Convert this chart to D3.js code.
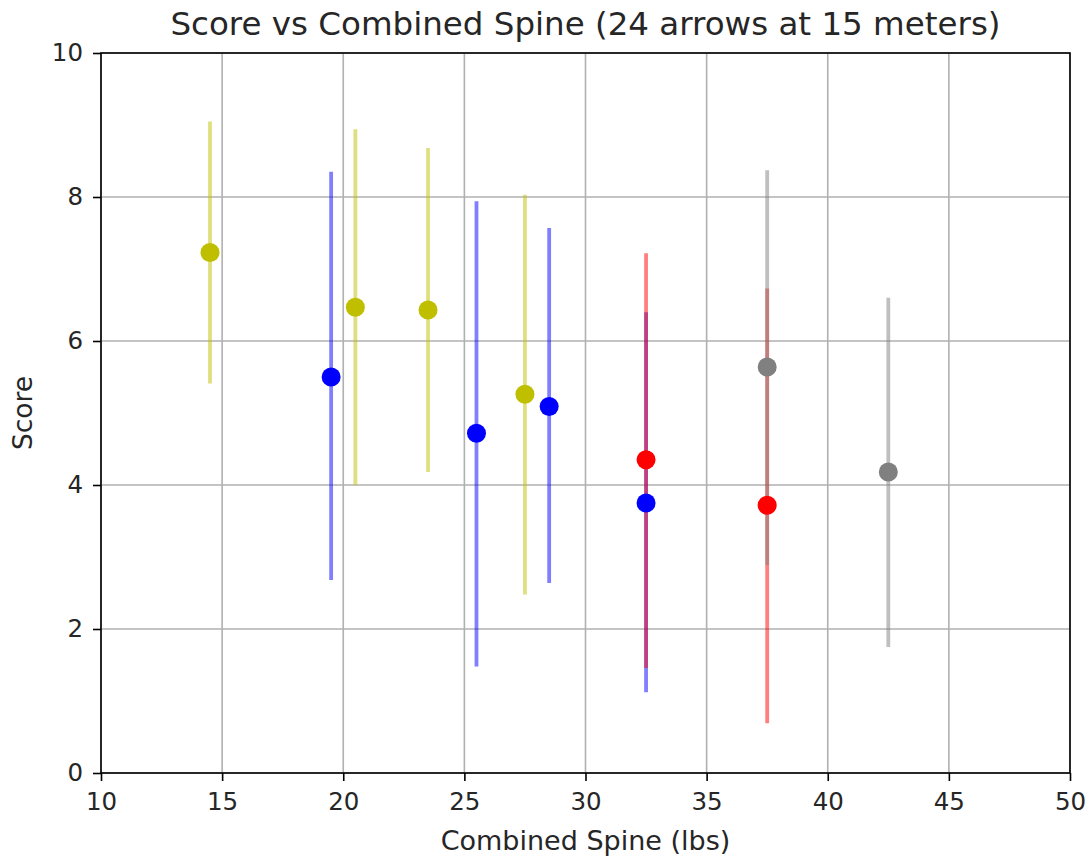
<!DOCTYPE html>
<html><head><meta charset="utf-8">
<script src="https://cdn.jsdelivr.net/npm/d3@7"></script>
<style>body{margin:0;background:#fff;} svg{display:block;font-family:"DejaVu Sans",sans-serif;}</style>
</head><body>
<svg id="c" width="1089" height="857"></svg>
<script>
const xTicks = [10,15,20,25,30,35,40,45,50];
const yTicks = [0,2,4,6,8,10];
const yellowX = [14.5,20.5,23.5,27.5];
const yellowY = [7.23,6.47,6.43,5.26];
const yellowLo = [5.41,4.0,4.18,2.48];
const yellowHi = [9.05,8.94,8.68,8.03];
const blueX = [19.5,25.5,28.5,32.5];
const blueY = [5.5,4.72,5.09,3.75];
const blueLo = [2.68,1.48,2.64,1.12];
const blueHi = [8.35,7.94,7.57,6.40];
const redX = [32.5,37.5];
const redY = [4.35,3.72];
const redLo = [1.46,0.69];
const redHi = [7.22,6.73];
const grayX = [37.5,42.5];
const grayY = [5.64,4.18];
const grayLo = [2.89,1.75];
const grayHi = [8.37,6.6];

const series = [
  {c:"#bfbf00", x:yellowX, y:yellowY, lo:yellowLo, hi:yellowHi},
  {c:"#0000ff", x:blueX, y:blueY, lo:blueLo, hi:blueHi},
  {c:"#ff0000", x:redX, y:redY, lo:redLo, hi:redHi},
  {c:"#808080", x:grayX, y:grayY, lo:grayLo, hi:grayHi}
];

const L=101,R=1070,T=53,B=773;
const svg=d3.select("#c");
const x=d3.scaleLinear().domain([10,50]).range([L,R]);
const y=d3.scaleLinear().domain([0,10]).range([B,T]);

// grid
const g=svg.append("g");
g.selectAll(".gx").data(xTicks).join("line").attr("x1",d=>x(d)).attr("x2",d=>x(d)).attr("y1",T).attr("y2",B).attr("stroke","#b0b0b0").attr("stroke-width",1.6);
g.selectAll(".gy").data(yTicks).join("line").attr("y1",d=>y(d)).attr("y2",d=>y(d)).attr("x1",L).attr("x2",R).attr("stroke","#b0b0b0").attr("stroke-width",1.6);

series.forEach(s=>{
  const pts=s.x.map((v,i)=>({x:v,y:s.y[i],lo:s.lo[i],hi:s.hi[i]}));
  svg.append("g").selectAll("line").data(pts).join("line")
    .attr("x1",d=>x(d.x)).attr("x2",d=>x(d.x)).attr("y1",d=>y(d.lo)).attr("y2",d=>y(d.hi))
    .attr("stroke",s.c).attr("stroke-opacity",0.5).attr("stroke-width",3.8);
});
series.forEach(s=>{
  const pts=s.x.map((v,i)=>({x:v,y:s.y[i]}));
  svg.append("g").selectAll("circle").data(pts).join("circle")
    .attr("cx",d=>x(d.x)).attr("cy",d=>y(d.y)).attr("r",9.5).attr("fill",s.c);
});

// axes
const xa=svg.append("g").attr("transform",`translate(0,${B})`).call(d3.axisBottom(x).tickValues(xTicks).tickSize(8).tickPadding(12).tickFormat(d3.format("d")));
const ya=svg.append("g").attr("transform",`translate(${L},0)`).call(d3.axisLeft(y).tickValues(yTicks).tickSize(8).tickPadding(10).tickFormat(d3.format("d")));
[xa,ya].forEach(a=>{a.select(".domain").remove();a.selectAll("line").attr("stroke","#000").attr("stroke-width",1.6);a.selectAll("text").attr("font-size",24.5).attr("fill","#262626").attr("font-family","DejaVu Sans");});
svg.append("rect").attr("x",L).attr("y",T).attr("width",R-L).attr("height",B-T).attr("fill","none").attr("stroke","#000").attr("stroke-width",1.6);

svg.append("text").attr("x",(L+R)/2).attr("y",35).attr("text-anchor","middle").attr("font-size",32.5).attr("fill","#262626").text("Score vs Combined Spine (24 arrows at 15 meters)");
svg.append("text").attr("x",(L+R)/2).attr("y",850).attr("text-anchor","middle").attr("font-size",27).attr("fill","#262626").text("Combined Spine (lbs)");
svg.append("text").attr("transform",`translate(32,${(T+B)/2}) rotate(-90)`).attr("text-anchor","middle").attr("font-size",26.5).attr("fill","#262626").text("Score");
</script>
</body></html>
